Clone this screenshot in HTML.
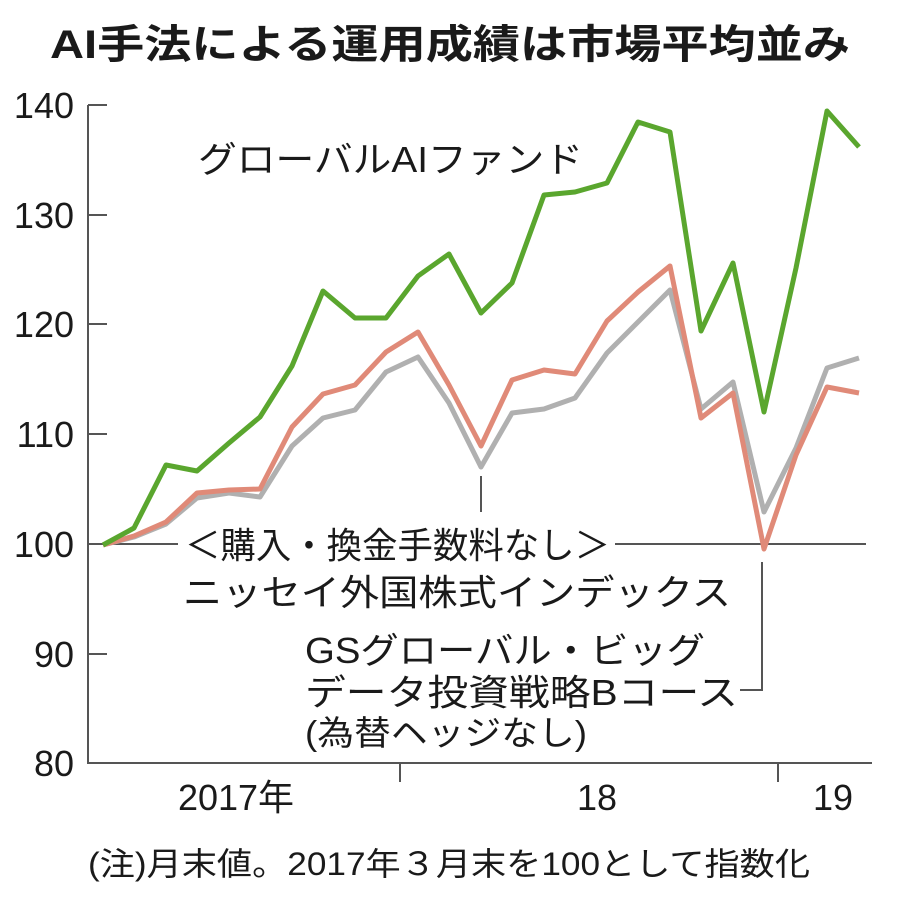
<!DOCTYPE html>
<html><head><meta charset="utf-8"><style>
body{margin:0;background:#fff}
svg{display:block}
text{font-family:"Liberation Sans","Noto Sans CJK JP",sans-serif;fill:#1a1a1a}
</style></head><body>
<svg width="900" height="900" viewBox="0 0 900 900">
<text x="450" y="58" text-anchor="middle" font-size="40" font-weight="bold" textLength="800" lengthAdjust="spacingAndGlyphs">AI手法による運用成績は市場平均並み</text>
<g stroke="#555" stroke-width="2" fill="none">
<path d="M88 105V763H872"/>
<path d="M88 105H107M88 215H107M88 324H107M88 434H107M88 654H107"/>
<path d="M400 763V782M778 763V782"/>
<path d="M88 544H178M615 544H866"/>
<path d="M481 476V512"/>
<path d="M762 562V690H740"/>
</g>
<g font-size="36" text-anchor="end">
<text x="74" y="118">140</text><text x="74" y="228">130</text><text x="74" y="337">120</text>
<text x="74" y="447">110</text><text x="74" y="557">100</text><text x="74" y="667">90</text><text x="74" y="776">80</text>
</g>
<g font-size="36" text-anchor="middle">
<text x="236" y="810">2017年</text><text x="597" y="810">18</text><text x="833" y="810">19</text>
</g>
<g fill="none" stroke-width="5" stroke-linejoin="round">
<polyline stroke="#b0b0b0" points="103,545 134,537 166,524 197,498 229,493 260,497 292,446 323,418 355,410 386,372 418,357 449,403 481,467 512,413 544,409 575,398 607,353 638,322 670,290 701,409 733,382 764,512 796,448 827,368 859,358"/>
<polyline stroke="#e08a78" points="103,545 134,536 166,522 197,493 229,490 260,489 292,427 323,394 355,385 386,352 418,332 449,385 481,446 512,380 544,370 575,374 607,321 638,292 670,266 701,418 733,393 764,549 796,455 827,387 859,393"/>
<polyline stroke="#5aa62e" points="103,545 134,528 166,465 197,471 229,443 260,417 292,366 323,291 355,318 386,318 418,276 449,254 481,313 512,283 544,195 575,192 607,183 638,122 670,132 701,331 733,263 764,412 796,268 827,111 859,147"/>
</g>
<text x="198" y="172" font-size="36" textLength="385" lengthAdjust="spacingAndGlyphs">グローバルAIファンド</text>
<g font-size="36">
<text x="185" y="558" textLength="425" lengthAdjust="spacingAndGlyphs">＜購入・換金手数料なし＞</text>
<text x="183" y="605" textLength="548" lengthAdjust="spacingAndGlyphs">ニッセイ外国株式インデックス</text>
<text x="305" y="663" textLength="400" lengthAdjust="spacingAndGlyphs">GSグローバル・ビッグ</text>
<text x="305" y="705" textLength="433" lengthAdjust="spacingAndGlyphs">データ投資戦略Bコース</text>
<text x="305" y="745" font-size="34" textLength="282" lengthAdjust="spacingAndGlyphs">(為替ヘッジなし)</text>
</g>
<text x="88" y="875" font-size="32" textLength="722" lengthAdjust="spacingAndGlyphs">(注)月末値。2017年３月末を100として指数化</text>
</svg>
</body></html>
